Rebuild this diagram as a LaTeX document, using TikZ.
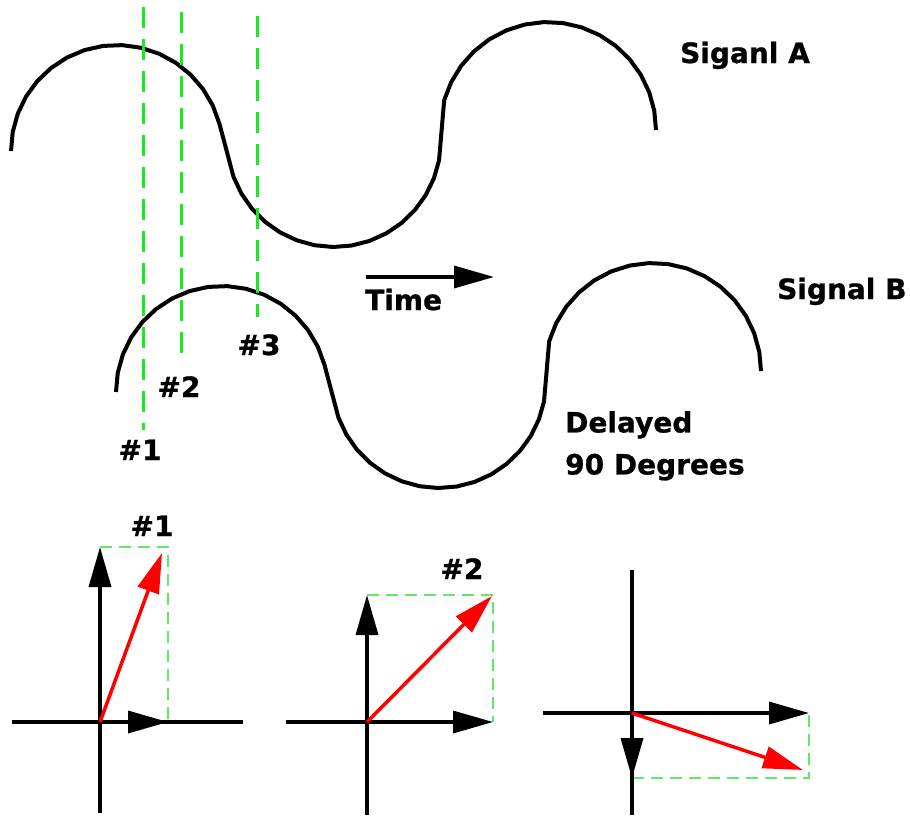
\documentclass[tikz,border=0pt]{standalone}
\usepackage{fontspec}
\setmainfont{DejaVu Sans}[BoldFeatures={FakeBold=0.8}]
\usepackage{xcolor}
\usepackage{tikz}
\usetikzlibrary{arrows.meta}
\definecolor{cursorgreen}{HTML}{1EE81E}
\definecolor{guidegreen}{HTML}{66E666}
\definecolor{phasorred}{HTML}{FF0000}

\begin{document}
\begin{tikzpicture}[x=1pt, y=-1pt, font=\bfseries\fontsize{28}{42}\selectfont,
      >={Triangle[length=40pt,width=22pt]},
      wave/.style={line width=4pt, line join=round},
      cursor/.style={draw=cursorgreen, line width=3pt, dash pattern=on 21pt off 11pt},
      guide/.style={draw=guidegreen, line width=1.5pt, dash pattern=on 12pt off 7pt},
      axis/.style={line width=3.5pt},
      phasor/.style={draw=phasorred, line width=3.5pt},
      lbl/.style={inner sep=0pt}]
    \useasboundingbox (0,0) rectangle (910,815);
    % signal A and the same wave delayed as signal B
    \foreach \dx/\dy in {0/0, 105/241}{
      \begin{scope}[shift={(\dx,\dy)}]
        \draw[wave] plot[domain=180:345, samples=17] ({117+106*cos(\x)},{151+106*sin(\x)})
          -- plot[domain=160:11, samples=16] ({334+107*cos(\x)},{140+107*sin(\x)})
          -- plot[domain=196:360, samples=17] ({548+108*cos(\x)},{130+108*sin(\x)});
      \end{scope}
    }
    \node[lbl, anchor=base west] (sigA) at (680,63) {Siganl A};
    \node[lbl, anchor=base west] (sigB) at (777,299) {Signal B};
    \node[lbl, anchor=north west, align=left] (delay) at (565,411) {Delayed\\90 Degrees};
    % sample instants
    \coordinate (c1a) at (143,7);   \coordinate (c1b) at (143,430);
    \coordinate (c2a) at (181,12);  \coordinate (c2b) at (181,358);
    \coordinate (c3a) at (257,16);  \coordinate (c3b) at (257,317);
    \draw[cursor] (c1a) -- (c1b);
    \draw[cursor] (c2a) -- (c2b);
    \draw[cursor] (c3a) -- (c3b);
    \node[lbl, anchor=base] (m1) at (140,460) {\#1};
    \node[lbl, anchor=base] (m2) at (179,397) {\#2};
    \node[lbl, anchor=base] (m3) at (259,355) {\#3};
    % time axis
    \coordinate (t0) at (366,277); \coordinate (t1) at (494,277);
    \draw[axis, ->] (t0) -- (t1);
    \node[lbl, anchor=base west] (time) at (365,310) {Time};
    % phasor at #1
    \coordinate (o1) at (100,722); \coordinate (x1) at (168,722);
    \coordinate (y1) at (100,547); \coordinate (r1) at (162,553);
    \draw[guide] (y1) -| (x1);
    \draw[axis] (12,722) -- (243,722);
    \draw[axis] (100,580) -- (100,813);
    \draw[axis, ->] (o1) -- (x1);
    \draw[axis, ->] (o1) -- (y1);
    \draw[phasor, ->] (o1) -- (r1);
    \node[lbl, anchor=base] (q1) at (152,536) {\#1};
    % phasor at #2
    \coordinate (o2) at (367,722); \coordinate (x2) at (493,722);
    \coordinate (y2) at (367,595); \coordinate (r2) at (492,596);
    \draw[guide] (y2) -| (x2);
    \draw[axis] (286,722) -- (460,722);
    \draw[axis] (367,628) -- (367,815);
    \draw[axis, ->] (o2) -- (x2);
    \draw[axis, ->] (o2) -- (y2);
    \draw[phasor, ->] (o2) -- (r2);
    \node[lbl, anchor=base] (q2) at (462,579) {\#2};
    % phasor at #3
    \coordinate (o3) at (632,713); \coordinate (x3) at (809,713);
    \coordinate (y3) at (632,778); \coordinate (r3) at (803,770);
    \draw[guide] (y3) -| (x3);
    \draw[axis] (543,713) -- (775,713);
    \draw[axis] (632,570) -- (632,815);
    \draw[axis, ->] (o3) -- (x3);
    \draw[axis, ->] (o3) -- (y3);
    \draw[phasor, ->] (o3) -- (r3);
  \end{tikzpicture}
\end{document}
